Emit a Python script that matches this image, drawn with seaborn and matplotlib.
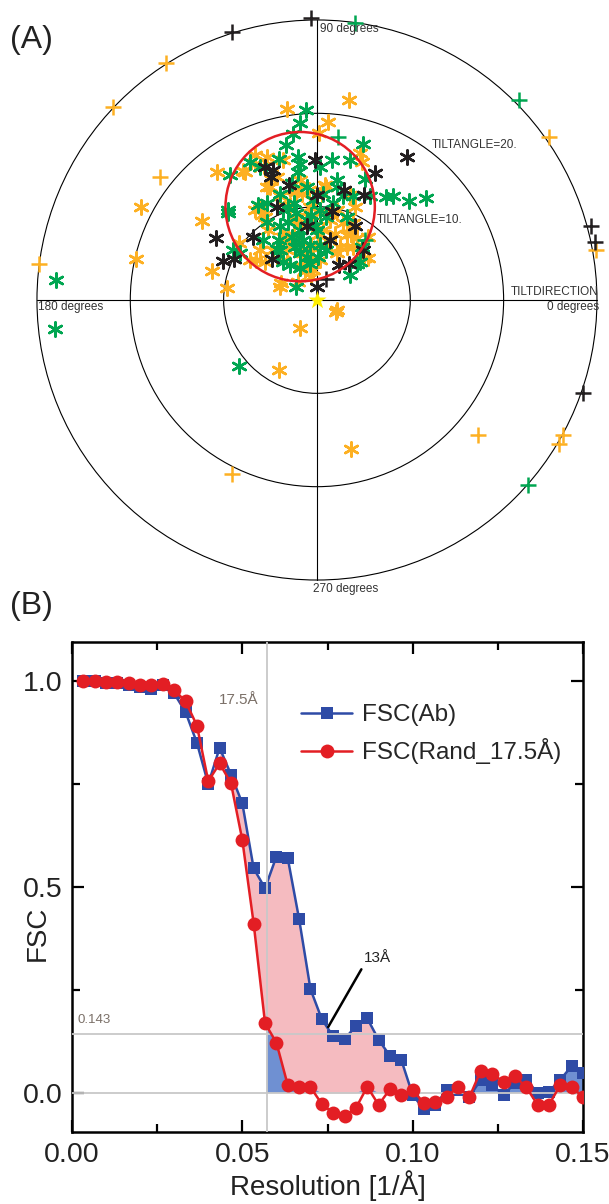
import numpy as np
import pandas as pd
import matplotlib
matplotlib.use("Agg")
import matplotlib.pyplot as plt
from matplotlib.patches import Circle
from matplotlib.ticker import MultipleLocator, FormatStrFormatter
import seaborn as sns

# ---------------- panel A: tilt pairs, (x, y) components of tilt in degrees
orange_star = [(3.4, 21.4), (-18.9, 10.0), (-12.3, 8.5), (-11.2, 3.1), (-9.6, 1.3), (-3.2, 20.5),
               (1.2, 19.1), (2.0, -1.3), (2.2, -1.1), (-1.8, -3.0), (-4.1, -7.5), (3.6, -16.0),
               (-19.4, 4.4), (0.2, 17.9), (-6.6, 15.5), (-10.7, 13.7), (-7.9, 13.8), (-5.7, 14.4),
               (4.6, 15.7), (-3.6, 15.0), (-8.4, 6.1), (-6.1, 5.4), (-6.5, 4.3), (-4.0, 1.4),
               (-2.0, 1.9), (-0.4, 3.2), (5.5, 4.5), (5.5, 6.8), (3.9, 5.7), (3.5, 11.2),
               (4.1, 10.0), (2.8, 8.2), (3.2, 7.0), (2.5, 5.7), (2.1, 5.0), (1.0, 12.1),
               (-1.8, 12.9), (-4.3, 13.2), (-5.0, 12.1), (-4.0, 11.1), (-6.1, 9.8), (-5.6, 8.9),
               (-5.2, 7.5), (-3.6, 6.8), (-2.2, 8.6), (-2.9, 6.4), (-1.5, 5.0), (-0.6, 4.3),
               (0.3, 7.1), (0.3, 9.3), (-0.7, 10.0), (1.4, 9.3), (1.9, 7.1), (0.3, 4.3),
               (-1.6, 3.6), (-0.6, 5.7), (-2.2, 11.6), (-0.9, 11.8), (0.5, 11.4), (-7.7, 13.7),
               (-6.6, 14.6), (-4.9, 13.0), (-5.4, 12.1), (-6.6, 9.6), (-5.9, 9.1), (-7.2, 4.3),
               (-5.6, 4.1), (-3.8, 1.8), (-2.5, 11.8), (-1.6, 11.4), (0.9, 12.3), (2.1, 9.6),
               (1.4, 8.6), (0.7, 7.5), (3.2, 5.7), (3.7, 7.1), (3.9, 8.2), (4.3, 6.6),
               (5.0, 4.5), (-3.1, 7.1), (-2.4, 6.2), (-3.2, 5.4), (-0.7, 5.0), (-1.3, 3.2),
               (-0.6, 2.5), (-3.6, 4.3), (-4.7, 5.4), (-2.4, 8.9), (-0.9, 8.9), (0.1, 7.0),
               (4.8, 14.8), (-5.4, 15.3), (-0.2, 8.0), (0.9, 5.9), (-1.8, 8.0), (-2.9, 10.2)]
green_star = [(-28.0, 2.1), (-28.1, -3.1), (-8.4, -7.1), (11.7, 10.9), (9.9, 10.6), (8.1, 11.1),
              (7.4, 11.0), (4.9, 16.7), (-1.2, 20.4), (-1.8, 19.0), (-2.6, 17.8), (-3.3, 16.6),
              (1.6, 15.0), (3.5, 15.0), (0.3, 14.2), (-2.0, 15.3), (-1.8, 14.6), (-2.0, 13.7),
              (-4.1, 15.1), (-7.2, 14.8), (-9.3, 13.4), (5.1, 13.0), (2.1, 12.9), (-9.5, 9.6),
              (-9.5, 9.3), (-6.3, 10.2), (-4.0, 11.4), (-3.1, 10.0), (-2.2, 9.3), (-1.1, 8.6),
              (-1.8, 7.5), (-2.4, 5.7), (-4.0, 7.9), (-4.1, 6.4), (-4.3, 5.5), (-3.6, 4.1),
              (-1.8, 3.4), (-1.1, 4.6), (0.3, 5.9), (1.0, 5.4), (0.0, 7.5), (1.0, 8.9),
              (2.1, 12.1), (1.7, 10.4), (3.2, 8.9), (4.6, 4.1), (3.5, 2.7), (3.9, 11.1),
              (5.7, 11.1), (-2.2, 1.4), (-9.0, 5.4), (-8.2, 5.0), (-5.4, 10.4), (-3.6, 9.6),
              (-2.5, 10.4), (-0.4, 10.7), (0.7, 11.4), (2.8, 11.1), (-2.7, 6.8), (-4.0, 5.4),
              (-1.8, 5.0), (-0.7, 5.9), (0.1, 4.6), (4.3, 3.9), (4.8, 5.7), (-5.4, 8.4),
              (-5.8, 6.4), (-0.7, 3.9), (-6.1, 14.3), (-2.7, 12.5), (-1.1, 12.1), (0.3, 9.6),
              (-0.2, 7.9), (-3.1, 8.4), (-1.5, 6.4), (-0.6, 9.1), (-2.9, 3.7)]
black_star = [(9.7, 15.3), (-10.8, 6.6), (-10.1, 4.2), (-8.9, 4.4), (-6.9, 6.7), (6.2, 13.6),
              (5.0, 11.3), (-0.2, 15.0), (0.0, 1.4), (-4.8, 4.4), (2.4, 3.7), (3.4, 3.9),
              (4.9, 5.4), (4.1, 7.9), (2.9, 11.8), (-3.0, 12.3), (-4.7, 13.9), (-5.6, 14.3),
              (-4.9, 13.2), (0.0, 11.2), (-4.3, 10.0), (1.6, 9.5), (-1.1, 7.9), (1.4, 6.4)]
black_plus = [(-0.6, 30.2), (-9.1, 28.7), (29.4, 7.9), (29.8, 6.2), (28.5, -10.0), (1.0, 2.3)]
green_plus = [(4.1, 29.7), (21.6, 21.4), (2.3, 17.5), (5.1, 6.4), (22.6, -19.8)]
orange_plus = [(-16.2, 25.4), (-21.8, 20.7), (-16.8, 13.2), (-29.8, 3.9), (24.9, 17.5),
               (29.9, 5.4), (17.3, -14.5), (26.4, -14.5), (25.9, -15.4), (-9.1, -18.6)]
reference_tilt = [(0.0, 0.0)]
mean_circle = (-1.8, 10.0, 8.0)   # centre x, centre y, radius (degrees)
tilt_rings = [10, 20, 30]

# ---------------- panel B: FSC curves
resolution = [0.00333, 0.00667, 0.01, 0.01333, 0.01667, 0.02, 0.02333, 0.02667, 0.03, 0.03333,
              0.03667, 0.04, 0.04333, 0.04667, 0.05, 0.05333, 0.05667, 0.06, 0.06333, 0.06667,
              0.07, 0.07333, 0.07667, 0.08, 0.08333, 0.08667, 0.09, 0.09333, 0.09667, 0.1,
              0.10333, 0.10667, 0.11, 0.11333, 0.11667, 0.12, 0.12333, 0.12667, 0.13, 0.13333,
              0.13667, 0.14, 0.14333, 0.14667, 0.15]
fsc_ab = [1.0, 1.0, 0.995, 0.995, 0.99, 0.985, 0.98, 0.99, 0.97, 0.925,
          0.85, 0.75, 0.838, 0.773, 0.703, 0.545, 0.497, 0.574, 0.57, 0.422,
          0.252, 0.179, 0.137, 0.13, 0.163, 0.181, 0.129, 0.09, 0.08, -0.005,
          -0.04, -0.03, 0.007, 0.007, -0.009, 0.032, 0.019, -0.005, 0.024, 0.032,
          0.0, 0.003, 0.032, 0.065, 0.048]
fsc_rand = [1.0, 1.0, 0.998, 0.997, 0.995, 0.99, 0.99, 0.992, 0.978, 0.951,
            0.892, 0.757, 0.8, 0.752, 0.614, 0.411, 0.169, 0.122, 0.019, 0.014,
            0.014, -0.027, -0.049, -0.057, -0.037, 0.015, -0.029, 0.009, -0.005, 0.007,
            -0.025, -0.023, -0.009, 0.014, -0.01, 0.054, 0.046, 0.027, 0.04, 0.014,
            -0.029, -0.029, 0.019, 0.014, -0.01]
cutoff_res = 1 / 17.5
threshold = 0.143

ORANGE, GREEN, BLACK = "#FDB022", "#00A651", "#231F20"
BLUE, RED = "#2E4BA6", "#E31E24"

sns.set_theme(style="white")
plt.rcParams["font.family"] = ["Liberation Sans", "DejaVu Sans"]

fig = plt.figure(figsize=(6.09, 12.04), dpi=100)

# ===== panel A
axA = fig.add_axes([0, 1 - 600 / 1204, 1, 600 / 1204])
axA.set_xlim(-33.96, 31.29)
axA.set_ylim(-32.14, 32.14)
axA.axis("off")
for r in tilt_rings:
    axA.add_patch(Circle((0, 0), r, fill=False, ec="black", lw=0.8, zorder=1))
axA.plot([-30, 30], [0, 0], color="black", lw=0.8, zorder=1)
axA.plot([0, 0], [-30, 30], color="black", lw=0.8, zorder=1)

asterisk = (6, 2, 0)
groups = [(orange_star, ORANGE, asterisk, 105), (green_star, GREEN, asterisk, 105),
          (black_star, BLACK, asterisk, 105), (orange_plus, ORANGE, "+", 140),
          (green_plus, GREEN, "+", 140), (black_plus, BLACK, "+", 140)]
for pts, col, mk, size in groups:
    df = pd.DataFrame(pts, columns=["tx", "ty"])
    sns.scatterplot(data=df, x="tx", y="ty", color=col, marker=mk, s=size,
                    linewidth=1.8, ax=axA, legend=False, zorder=3)
ref = pd.DataFrame(reference_tilt, columns=["tx", "ty"])
sns.scatterplot(data=ref, x="tx", y="ty", color="#FFEE00", marker="*", s=190,
                linewidth=0, ax=axA, legend=False, zorder=5)
axA.add_patch(Circle(mean_circle[:2], mean_circle[2], fill=False, ec=RED, lw=1.8, zorder=4))

tcol = "#333333"
axA.text(0.3, 29.0, "90 degrees", fontsize=8.5, color=tcol, ha="left", va="center")
axA.text(-29.9, -0.7, "180 degrees", fontsize=8.5, color=tcol, ha="left", va="center")
axA.text(30.2, -0.7, "0 degrees", fontsize=8.5, color=tcol, ha="right", va="center")
axA.text(-0.4, -31.0, "270 degrees", fontsize=8.5, color=tcol, ha="left", va="center")
axA.text(12.3, 16.6, "TILTANGLE=20.", fontsize=8.5, color=tcol, ha="left", va="center")
axA.text(6.4, 8.6, "TILTANGLE=10.", fontsize=8.5, color=tcol, ha="left", va="center")
axA.text(30.2, 0.9, "TILTDIRECTION", fontsize=8.5, color=tcol, ha="right", va="center")
fig.text(10 / 609, 1 - 40 / 1204, "(A)", fontsize=23, color="#222222", ha="left", va="center")
fig.text(10 / 609, 1 - 606 / 1204, "(B)", fontsize=23, color="#222222", ha="left", va="center")

# ===== panel B
axB = fig.add_axes([72 / 609, 1 - 1132 / 1204, 511 / 609, 490 / 1204])
res = np.array(resolution)
ab = np.array(fsc_ab)
rnd = np.array(fsc_rand)

# light blue: area under FSC(Ab) beyond the 17.5 A cut-off
xs = np.concatenate([[cutoff_res], res[res > cutoff_res]])
ab_s = np.interp(xs, res, ab)
axB.fill_between(xs, 0, ab_s, where=ab_s > 0, interpolate=True, color="#6F90D2",
                 lw=0, zorder=1)
# pink: gain of FSC(Ab) over the randomised map
low = np.maximum(rnd, 0)
sel = (res >= 0.043) & (res <= 0.1001)
axB.fill_between(res[sel], low[sel], ab[sel], where=ab[sel] > low[sel], interpolate=True,
                 color="#F5BBC0", lw=0, zorder=1.5)

sns.lineplot(x=res, y=ab, color=BLUE, lw=1.8, marker="s", markersize=8, markeredgewidth=0,
             label="FSC(Ab)", ax=axB, zorder=3)
sns.lineplot(x=res, y=rnd, color=RED, lw=1.8, marker="o", markersize=10, markeredgewidth=0,
             label="FSC(Rand_17.5Å)", ax=axB, zorder=4)

gcol = "#C8C8C8"
axB.axhline(threshold, color=gcol, lw=1.3, zorder=3.5)
axB.axhline(0, color=gcol, lw=1.3, zorder=3.5)
axB.axvline(cutoff_res, color=gcol, lw=1.3, zorder=3.5)

axB.text(0.0546, 0.955, "17.5Å", fontsize=11, color="#7B7068", ha="right", va="center")
axB.text(0.0015, 0.177, "0.143", fontsize=9.5, color="#7B7068", ha="left", va="center")
axB.annotate("13Å", xy=(0.0752, 0.16), xytext=(0.0857, 0.328), fontsize=11, color="#222222",
             ha="left", va="center",
             arrowprops=dict(arrowstyle="-", lw=1.8, color="black", relpos=(0.0, 0.0),
                             shrinkA=1, shrinkB=0))

axB.set_xlim(0, 0.15)
axB.set_ylim(-0.095, 1.095)
axB.xaxis.set_major_locator(MultipleLocator(0.05))
axB.xaxis.set_minor_locator(MultipleLocator(0.025))
axB.yaxis.set_major_locator(MultipleLocator(0.5))
axB.yaxis.set_minor_locator(MultipleLocator(0.25))
axB.xaxis.set_major_formatter(FormatStrFormatter("%.2f"))
axB.yaxis.set_major_formatter(FormatStrFormatter("%.1f"))
axB.tick_params(which="both", direction="in", top=True, right=True, bottom=True, left=True,
                width=1.6, color="black", labelsize=20.5, labelcolor="#222222", pad=7)
axB.tick_params(which="major", length=8.5)
axB.tick_params(which="minor", length=5.5)
for sp in axB.spines.values():
    sp.set_color("black")
    sp.set_linewidth(1.8)
axB.set_xlabel("Resolution [1/Å]", fontsize=20, color="#222222", labelpad=2)
axB.set_ylabel("")
axB.text(-0.068, 0.405, "FSC", transform=axB.transAxes, rotation=90, fontsize=20,
         color="#222222", ha="center", va="center")

axB.legend(loc="upper left", bbox_to_anchor=(0.43, 0.893), frameon=False, fontsize=17.5,
           handlelength=2.1, handletextpad=0.4, labelspacing=0.5, borderaxespad=0)

fig.savefig("out.png", dpi=100)
